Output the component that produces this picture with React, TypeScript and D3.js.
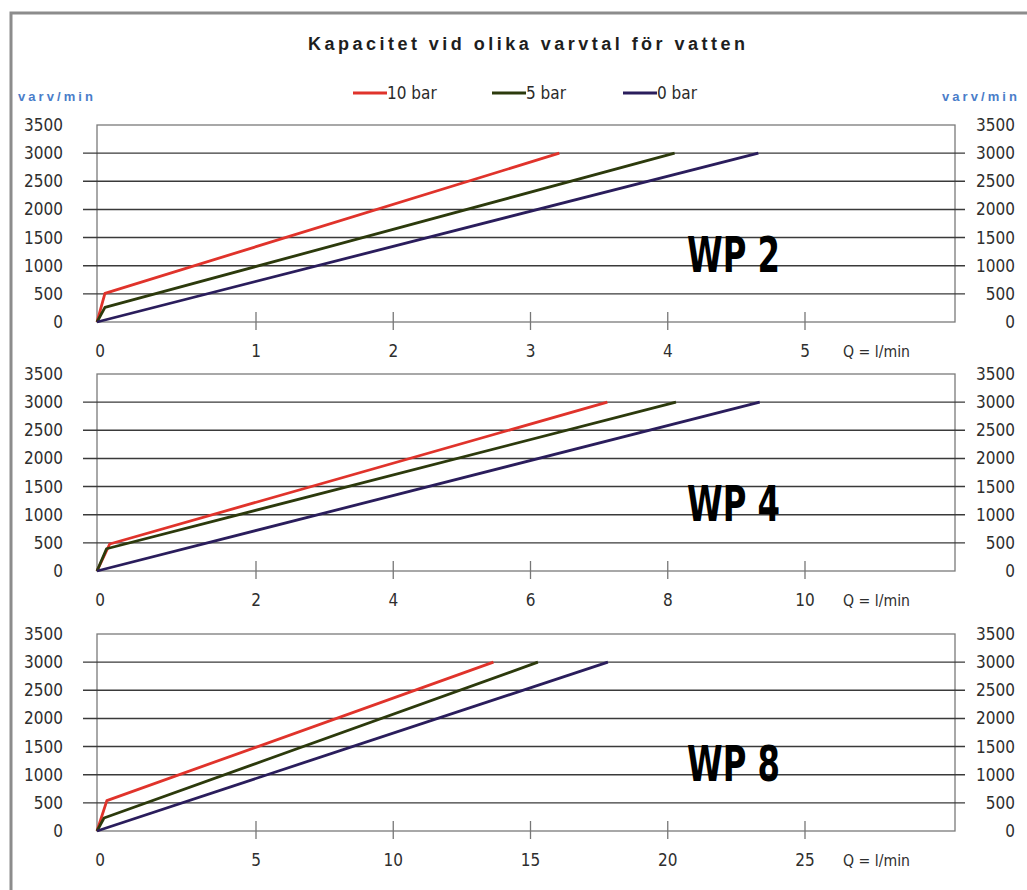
import React, { useEffect, useRef } from "react";
import * as d3 from "d3";

type Pt = [number, number];

// Chart values
const title = "Kapacitet vid olika varvtal för vatten";
const yUnit = "varv/min";
const xUnit = "Q = l/min";
const seriesNames = ["10 bar", "5 bar", "0 bar"];
const yTicks = [0, 500, 1000, 1500, 2000, 2500, 3000, 3500];

const wp2Ticks = [0, 1, 2, 3, 4, 5];
const wp2Bar10: Pt[] = [[0, 0], [0.05, 510], [3.21, 3000]];
const wp2Bar5: Pt[] = [[0, 0], [0.05, 260], [4.05, 3000]];
const wp2Bar0: Pt[] = [[0, 0], [4.66, 3000]];

const wp4Ticks = [0, 2, 4, 6, 8, 10];
const wp4Bar10: Pt[] = [[0, 0], [0.16, 480], [7.12, 3000]];
const wp4Bar5: Pt[] = [[0, 0], [0.12, 395], [8.12, 3000]];
const wp4Bar0: Pt[] = [[0, 0], [9.34, 3000]];

const wp8Ticks = [0, 5, 10, 15, 20, 25];
const wp8Bar10: Pt[] = [[0, 0], [0.31, 540], [13.65, 3000]];
const wp8Bar5: Pt[] = [[0, 0], [0.22, 230], [15.27, 3000]];
const wp8Bar0: Pt[] = [[0, 0], [17.82, 3000]];

const panels = [
  { name: "WP 2", ticks: wp2Ticks, series: [wp2Bar10, wp2Bar5, wp2Bar0] },
  { name: "WP 4", ticks: wp4Ticks, series: [wp4Bar10, wp4Bar5, wp4Bar0] },
  { name: "WP 8", ticks: wp8Ticks, series: [wp8Bar10, wp8Bar5, wp8Bar0] },
];

const colors = ["#e0332b", "#2c3a0c", "#2a1d5c"];
const narrow = "'Liberation Sans Narrow', 'DejaVu Sans Condensed', 'Arial Narrow', sans-serif";
const W = 1027;
const H = 890;

export default function App() {
  const ref = useRef<SVGSVGElement>(null);

  useEffect(() => {
    document.body.style.margin = "0";
    if (!ref.current) return;
    const svg = d3.select(ref.current);
    svg.selectAll("*").remove();

    svg.append("rect").attr("width", W).attr("height", H).attr("fill", "#fff");

    // outer frame (only left and top edges fall inside the picture)
    svg
      .append("path")
      .attr("d", `M11,${H + 5} V13 H${W + 5}`)
      .attr("fill", "none")
      .attr("stroke", "#8c8c8c")
      .attr("stroke-width", 3);

    svg
      .append("text")
      .attr("x", 308)
      .attr("y", 50)
      .attr("textLength", 437)
      .attr("lengthAdjust", "spacing")
      .style("font-family", "'Liberation Sans', Arial, sans-serif")
      .style("font-size", "18px")
      .style("font-weight", "bold")
      .attr("fill", "#1e1e1e")
      .text(title);

    // unit labels
    [18, 942].forEach((x) => {
      svg
        .append("text")
        .attr("x", x)
        .attr("y", 101)
        .attr("textLength", 75)
        .attr("lengthAdjust", "spacing")
        .style("font-family", "'Liberation Sans', Arial, sans-serif")
        .style("font-size", "13px")
        .style("font-weight", "bold")
        .attr("fill", "#4a7dc9")
        .text(yUnit);
    });

    // legend
    const legendX = [353, 492, 623];
    seriesNames.forEach((name, i) => {
      const g = svg.append("g").attr("transform", `translate(${legendX[i]},93)`);
      g.append("line")
        .attr("x1", 0)
        .attr("x2", 34)
        .attr("stroke", colors[i])
        .attr("stroke-width", 3);
      g.append("text")
        .attr("x", 34)
        .attr("y", 6)
        .style("font-family", narrow)
        .style("font-size", "17px")
        .attr("fill", "#2a2a2a")
        .text(name);
    });

    const left = 97;
    const right = 955;
    const tickX = [97, 256, 805];
    const tops = [125, 374, 634];
    const ph = 197;

    panels.forEach((p, pi) => {
      const top = tops[pi];
      const bottom = top + ph;
      const n = p.ticks.length - 1;
      const x = d3
        .scaleLinear()
        .domain([p.ticks[0], p.ticks[1], p.ticks[n]])
        .range(tickX);
      const y = d3.scaleLinear().domain([0, 3500]).range([bottom, top]);

      const g = svg.append("g");

      // plot frame
      g.append("rect")
        .attr("x", left)
        .attr("y", top)
        .attr("width", right - left)
        .attr("height", ph)
        .attr("fill", "none")
        .attr("stroke", "#7a7a7a")
        .attr("stroke-width", 1.3);

      // gridlines, sticking out on both sides
      g.selectAll(".grid")
        .data(yTicks.filter((t) => t > 0 && t < 3500))
        .join("line")
        .attr("x1", left - 14)
        .attr("x2", right + 10)
        .attr("y1", (d) => y(d))
        .attr("y2", (d) => y(d))
        .attr("stroke", "#3a3a3a")
        .attr("stroke-width", 1.4);

      // y labels both sides
      [left - 34, 1015].forEach((lx) => {
        g.selectAll(null)
          .data(yTicks)
          .join("text")
          .attr("x", lx)
          .attr("y", (d) => y(d) + 6)
          .attr("text-anchor", "end")
          .style("font-family", narrow)
          .style("font-size", "17px")
          .attr("fill", "#2e2e2e")
          .text((d) => d);
      });

      // x ticks
      g.selectAll(null)
        .data(p.ticks.slice(1))
        .join("line")
        .attr("x1", (d) => x(d))
        .attr("x2", (d) => x(d))
        .attr("y1", bottom - 10)
        .attr("y2", bottom + 8)
        .attr("stroke", "#777")
        .attr("stroke-width", 1.3);

      g.selectAll(null)
        .data(p.ticks)
        .join("text")
        .attr("x", (d) => x(d) + (d === 0 ? 3 : 0))
        .attr("y", bottom + 35)
        .attr("text-anchor", "middle")
        .style("font-family", narrow)
        .style("font-size", "17px")
        .attr("fill", "#2e2e2e")
        .text((d) => d);

      g.append("text")
        .attr("x", 843)
        .attr("y", bottom + 35)
        .attr("textLength", 67)
        .attr("lengthAdjust", "spacingAndGlyphs")
        .style("font-family", narrow)
        .style("font-size", "16px")
        .attr("fill", "#2e2e2e")
        .text(xUnit);

      const line = d3
        .line<Pt>()
        .x((d) => x(d[0]))
        .y((d) => y(d[1]));

      p.series.forEach((s, si) => {
        g.append("path")
          .datum(s)
          .attr("d", line)
          .attr("fill", "none")
          .attr("stroke", colors[si])
          .attr("stroke-width", 2.8)
          .attr("stroke-linejoin", "round");
      });

      g.append("text")
        .attr("x", 687)
        .attr("y", top + 147)
        .attr("textLength", 93)
        .attr("lengthAdjust", "spacingAndGlyphs")
        .style("font-family", narrow)
        .style("font-size", "50px")
        .style("font-weight", "bold")
        .attr("fill", "#000")
        .text(p.name);
    });
  }, []);

  return <svg ref={ref} width={W} height={H} style={{ display: "block" }} />;
}
